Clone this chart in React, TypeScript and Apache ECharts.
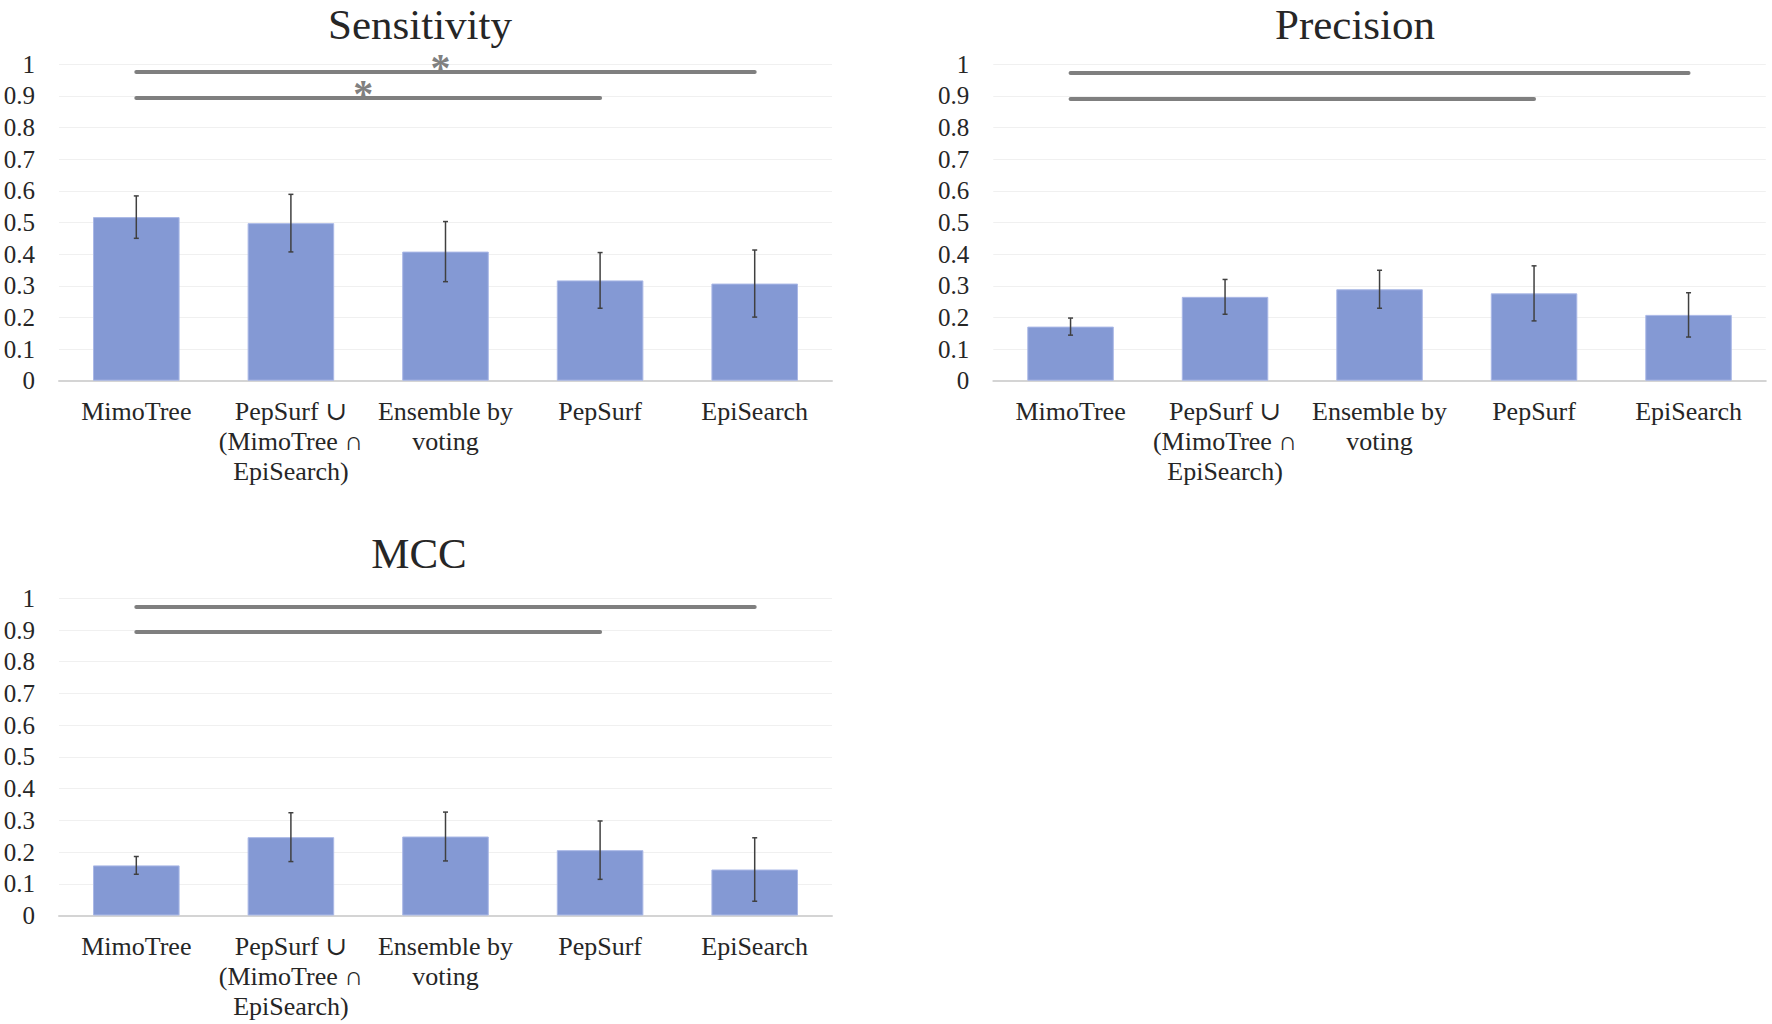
import React, { useEffect, useRef } from 'react';
import * as echarts from 'echarts';

// ---------------- data ----------------
const categories = [
  'MimoTree',
  'PepSurf \u222A\n(MimoTree \u2229\nEpiSearch)',
  'Ensemble by\nvoting',
  'PepSurf',
  'EpiSearch',
];
const chartTitles = ['Sensitivity', 'Precision', 'MCC'];

const sensitivity = [0.517, 0.498, 0.408, 0.317, 0.307];
const sensitivityErr = [0.067, 0.091, 0.095, 0.088, 0.106];

const precision = [0.171, 0.265, 0.289, 0.276, 0.208];
const precisionErr = [0.027, 0.055, 0.060, 0.087, 0.070];

const mcc = [0.158, 0.247, 0.249, 0.206, 0.145];
const mccErr = [0.028, 0.077, 0.077, 0.092, 0.100];

// significance brackets: [fromCategoryIndex, toCategoryIndex, yValue, mark]
const sensitivitySig: [number, number, number, string][] = [
  [0, 4, 0.975, '*'],
  [0, 3, 0.893, '*'],
];
const precisionSig: [number, number, number, string][] = [
  [0, 4, 0.972, ''],
  [0, 3, 0.890, ''],
];
const mccSig: [number, number, number, string][] = [
  [0, 4, 0.974, ''],
  [0, 3, 0.894, ''],
];

// ---------------- layout / style ----------------
const FONT = '"Liberation Serif", "DejaVu Serif", "Times New Roman", serif';
const TEXT = '#262626';
const BAR = '#8499D4';

const grids = [
  { left: 59, top: 64.3, width: 773, height: 316.4 },
  { left: 993.3, top: 64.3, width: 772.5, height: 316.4 },
  { left: 59, top: 598.3, width: 773, height: 317.2 },
];
const titlePos = [
  { x: 420, y: 2.5 },
  { x: 1355, y: 2.5 },
  { x: 419, y: 532 },
];

function buildOption() {
  const values = [sensitivity, precision, mcc];
  const errs = [sensitivityErr, precisionErr, mccErr];
  const sigs = [sensitivitySig, precisionSig, mccSig];

  const xAxis = grids.map((_, i) => ({
    type: 'category',
    gridIndex: i,
    data: categories,
    axisTick: { show: false },
    axisLine: { show: true, lineStyle: { color: '#d4d4d4', width: 2 } },
    axisLabel: {
      interval: 0,
      margin: 16,
      fontFamily: FONT,
      fontSize: 26,
      lineHeight: 30,
      color: TEXT,
    },
    splitLine: { show: false },
  }));

  const yAxis = grids.map((_, i) => ({
    type: 'value',
    gridIndex: i,
    min: 0,
    max: 1,
    interval: 0.1,
    axisLine: { show: false },
    axisTick: { show: false },
    axisLabel: {
      margin: 24,
      fontFamily: FONT,
      fontSize: 25,
      color: TEXT,
    },
    splitLine: { show: true, lineStyle: { color: '#f0f0f0', width: 1 } },
  }));

  const series: any[] = [];
  grids.forEach((_, i) => {
    series.push({
      type: 'bar',
      xAxisIndex: i,
      yAxisIndex: i,
      data: values[i],
      barWidth: '56%',
      itemStyle: { color: BAR, borderColor: '#aab8e6', borderWidth: 1 },
      silent: true,
      z: 2,
      markLine: {
        silent: true,
        symbol: ['none', 'none'],
        z: 5,
        lineStyle: { color: '#7f7f7f', width: 4, type: 'solid', cap: 'round' },
        emphasis: { disabled: true },
        data: sigs[i].map(([a, b, y, mark]) => [
          {
            coord: [a, y],
            label: {
              show: mark !== '',
              position: 'middle',
              formatter: mark,
              fontFamily: '"Liberation Serif", serif',
              fontWeight: 'bold',
              fontSize: 40,
              color: '#808080',
              distance: -15,
              offset: [-5, 0],
            },
          },
          { coord: [b, y] },
        ]),
      },
    });
    series.push({
      type: 'custom',
      xAxisIndex: i,
      yAxisIndex: i,
      silent: true,
      z: 4,
      data: values[i].map((v, k) => [k, v - errs[i][k], v + errs[i][k]]),
      encode: { x: 0, y: [1, 2] },
      renderItem: (params: any, api: any) => {
        const x = api.value(0);
        const lo = api.coord([x, api.value(1)]);
        const hi = api.coord([x, api.value(2)]);
        const cap = 2.5;
        const style = { stroke: '#404040', lineWidth: 1.5 };
        return {
          type: 'group',
          children: [
            { type: 'line', shape: { x1: lo[0], y1: lo[1], x2: hi[0], y2: hi[1] }, style },
            { type: 'line', shape: { x1: lo[0] - cap, y1: lo[1], x2: lo[0] + cap, y2: lo[1] }, style },
            { type: 'line', shape: { x1: hi[0] - cap, y1: hi[1], x2: hi[0] + cap, y2: hi[1] }, style },
          ],
        };
      },
    });
  });

  const graphic = chartTitles.map((t, i) => ({
    type: 'text',
    x: titlePos[i].x,
    y: titlePos[i].y,
    silent: true,
    style: {
      text: t,
      textAlign: 'center',
      textVerticalAlign: 'top',
      fontFamily: FONT,
      fontSize: 43,
      fill: TEXT,
    },
  }));

  return {
    animation: false,
    backgroundColor: '#ffffff',
    grid: grids,
    xAxis,
    yAxis,
    series,
    graphic,
  };
}

export default function App() {
  const ref = useRef<HTMLDivElement>(null);
  useEffect(() => {
    if (!ref.current) return;
    const chart = echarts.init(ref.current, null, { renderer: 'svg' });
    chart.setOption(buildOption() as any);
    return () => chart.dispose();
  }, []);
  return (
    <div
      ref={ref}
      style={{ position: 'absolute', left: 0, top: 0, width: 1772, height: 1024, background: '#fff' }}
    />
  );
}
